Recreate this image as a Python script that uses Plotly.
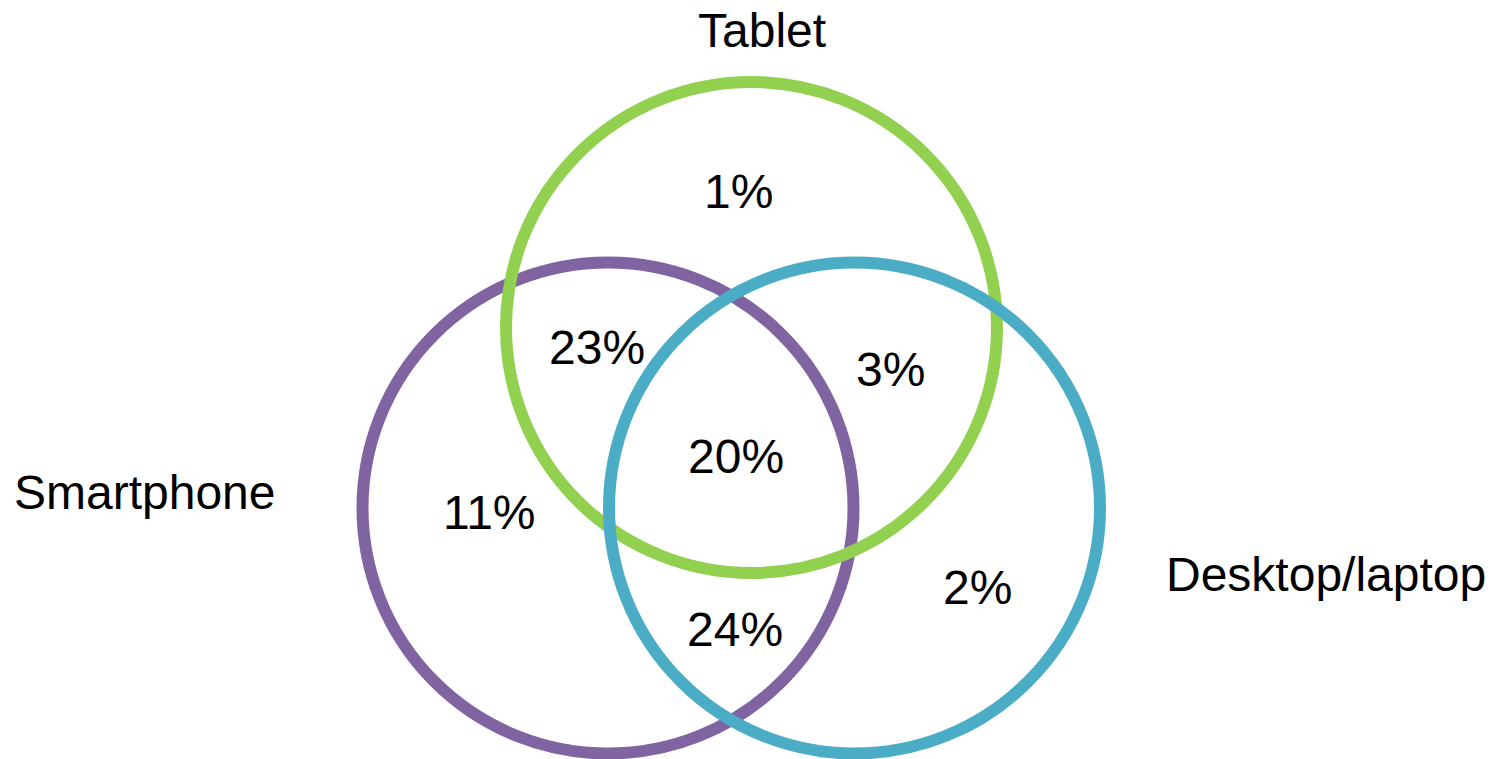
import plotly.graph_objects as go

# Device groups (circles) and the share of users in each overlap region
groups = ["Smartphone", "Tablet", "Desktop/laptop"]
group_colors = ["#8064A2", "#92D050", "#4BACC6"]

regions = ["Tablet only", "Smartphone & Tablet", "Tablet & Desktop/laptop",
           "All three", "Smartphone only", "Desktop/laptop only",
           "Smartphone & Desktop/laptop"]
shares = [1, 23, 3, 20, 11, 2, 24]

# Layout geometry (pixel-space coordinates)
circle_centers = {"Smartphone": (608, 508), "Tablet": (751.5, 327.5), "Desktop/laptop": (854.5, 508)}
circle_radius = 245.5
region_pos = [(738, 191), (597, 347), (890, 369), (736, 456),
              (489, 512), (977, 587), (735, 629)]
group_label_pos = {"Smartphone": (145, 492), "Tablet": (762, 30), "Desktop/laptop": (1326, 574)}

W, H = 1494, 759
FONT = "Liberation Sans, Arial, sans-serif"
SIZE = 48

fig = go.Figure()
fig.add_trace(go.Scatter(x=[0, W], y=[0, H], mode="markers",
                         marker=dict(opacity=0), hoverinfo="skip", showlegend=False))

# Circles drawn purple, green, blue so blue sits on top
for name, color in zip(groups, group_colors):
    cx, cy = circle_centers[name]
    fig.add_shape(type="circle", xref="x", yref="y",
                  x0=cx - circle_radius, x1=cx + circle_radius,
                  y0=cy - circle_radius, y1=cy + circle_radius,
                  line=dict(color=color, width=12), fillcolor="rgba(0,0,0,0)")

for (x, y), v in zip(region_pos, shares):
    fig.add_annotation(x=x, y=y, xref="x", yref="y", text=f"{v}%", showarrow=False,
                       font=dict(family=FONT, size=SIZE, color="#000000"),
                       xanchor="center", yanchor="middle")

for name in groups:
    x, y = group_label_pos[name]
    fig.add_annotation(x=x, y=y, xref="x", yref="y", text=name, showarrow=False,
                       font=dict(family=FONT, size=SIZE, color="#000000"),
                       xanchor="center", yanchor="middle")

fig.update_xaxes(range=[0, W], visible=False, fixedrange=True)
fig.update_yaxes(range=[H, 0], visible=False, fixedrange=True)
fig.update_layout(width=W, height=H, margin=dict(l=0, r=0, t=0, b=0),
                  paper_bgcolor="white", plot_bgcolor="white", showlegend=False)

fig.write_html("out.html", config={"displayModeBar": False})
